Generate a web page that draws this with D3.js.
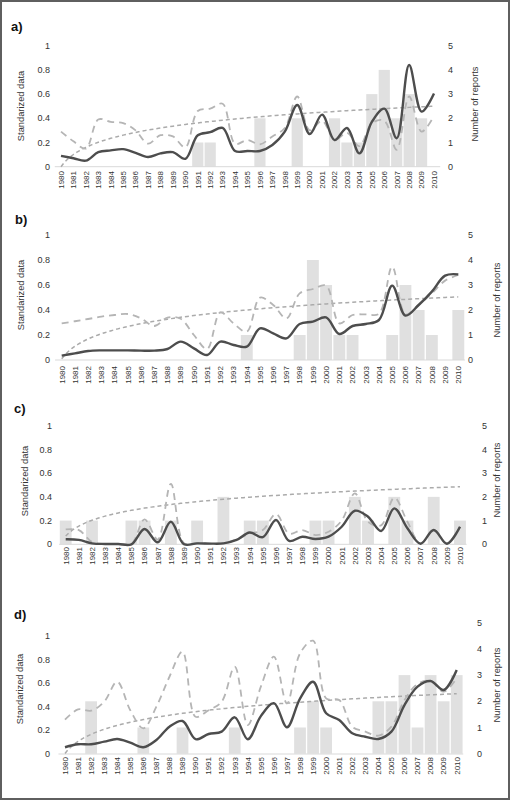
<!DOCTYPE html>
<html><head><meta charset="utf-8">
<script src="https://cdn.jsdelivr.net/npm/d3@7"></script>
<style>body{margin:0;background:#fff}svg{display:block}</style>
</head><body>
<script>
const years = [1980,1981,1982,1983,1984,1985,1986,1987,1988,1989,1990,1991,1992,1993,1994,1995,1996,1997,1998,1999,2000,2001,2002,2003,2004,2005,2006,2007,2008,2009,2010];
const leftTicks = [0,0.2,0.4,0.6,0.8,1];
const rightTicks = [0,1,2,3,4,5];
const panelLabels = ["a)","b)","c)","d)"];

const barsA   = [0,0,0,0,0,0,0,0,0,0,0,1,1,0,0,0,2,0,0,2,0,0,2,1,1,3,4,2,3,2,0];
const solidA  = [0.09,0.07,0.05,0.12,0.135,0.145,0.115,0.08,0.11,0.12,0.065,0.26,0.285,0.32,0.13,0.13,0.13,0.18,0.29,0.51,0.27,0.43,0.22,0.32,0.11,0.37,0.48,0.235,0.84,0.455,0.605];
const dashedA = [0.29,0.21,0.15,0.39,0.37,0.36,0.30,0.19,0.26,0.25,0.16,0.46,0.48,0.52,0.19,0.22,0.185,0.25,0.32,0.58,0.30,0.38,0.22,0.28,0.17,0.36,0.38,0.14,0.58,0.29,0.42];
const trendA  = [0.0,0.50];

const barsB   = [0,0,0,0,0,0,0,0,0,0,0,0,0,0,1,0,0,0,1,4,3,1,1,0,0,1,3,2,1,0,2];
const solidB  = [0.035,0.053,0.072,0.077,0.077,0.077,0.075,0.075,0.088,0.147,0.093,0.04,0.147,0.12,0.107,0.253,0.213,0.173,0.288,0.307,0.341,0.208,0.272,0.288,0.32,0.595,0.355,0.44,0.547,0.675,0.685];
const dashedB = [0.293,0.31,0.328,0.347,0.36,0.368,0.333,0.272,0.339,0.33,0.2,0.088,0.381,0.293,0.227,0.499,0.44,0.333,0.533,0.568,0.595,0.293,0.36,0.365,0.37,0.747,0.365,0.44,0.533,0.635,0.68];
const trendB  = [0.01,0.505];

const barsC   = [1,0,1,0,0,1,1,0,1,0,1,0,2,0,1,1,0,0,0,1,1,0,2,1,0,2,1,0,2,0,1];
const solidC  = [0.042,0.037,0.008,0.003,0.003,0.0,0.129,0.017,0.19,0.0,0.008,0.006,0.008,0.037,0.1,0.06,0.205,0.028,0.064,0.045,0.064,0.148,0.283,0.233,0.112,0.303,0.135,0.005,0.12,0.005,0.148];
const dashedC = [0.125,0.12,0.02,0.003,0.003,0.003,0.21,0.04,0.51,0.01,0.01,0.006,0.01,0.04,0.09,0.12,0.255,0.09,0.12,0.078,0.106,0.2,0.43,0.19,0.16,0.393,0.19,0.005,0.12,0.005,0.148];
const trendC  = [0.07,0.485];

const barsD   = [0,0,2,0,0,0,1,0,0,1,0,0,0,1,0,0,0,0,1,2,1,0,0,0,2,2,3,1,3,2,3];
const solidD  = [0.057,0.082,0.082,0.104,0.127,0.096,0.057,0.118,0.231,0.279,0.125,0.169,0.189,0.31,0.125,0.32,0.43,0.226,0.468,0.611,0.344,0.287,0.175,0.146,0.127,0.189,0.414,0.569,0.617,0.541,0.71];
const dashedD = [0.29,0.377,0.366,0.442,0.611,0.37,0.217,0.4,0.653,0.865,0.315,0.37,0.442,0.738,0.245,0.569,0.823,0.428,0.85,0.958,0.47,0.456,0.231,0.189,0.155,0.231,0.456,0.592,0.617,0.527,0.64];
const trendD  = [0.005,0.51];

const leftTitle = "Standarized data";
const rightTitle = "Number of reports";

const W = 510, H = 800;
const FONT = "'Liberation Sans', Arial, sans-serif";
const svg = d3.select("body").append("svg").attr("width", W).attr("height", H);
svg.append("rect").attr("width", W).attr("height", H).attr("fill", "#fff");

const panels = [
  {label: panelLabels[0], bars: barsA, solid: solidA, dashed: dashedA, trend: trendA,
   lx: 11, ly: 31, x0: 61, x1: 434, yTop: 45.7, yBase: 166.7, rTop: 45.7, rBase: 166.7,
   leftLabX: 50, rightLabX: 448, ltx: 21, lty: 106, rtx: 475, rty: 104, yearY: 171},
  {label: panelLabels[1], bars: barsB, solid: solidB, dashed: dashedB, trend: trendB,
   lx: 15, ly: 224, x0: 61.7, x1: 458.3, yTop: 235, yBase: 360, rTop: 235, rBase: 360,
   leftLabX: 50, rightLabX: 468, ltx: 21, lty: 295, rtx: 497, rty: 300, yearY: 366},
  {label: panelLabels[2], bars: barsC, solid: solidC, dashed: dashedC, trend: trendC,
   lx: 14, ly: 413, x0: 65.7, x1: 460, yTop: 425.7, yBase: 544.3, rTop: 425.7, rBase: 544.3,
   leftLabX: 52, rightLabX: 482, ltx: 25, lty: 481, rtx: 497, rty: 480, yearY: 547},
  {label: panelLabels[3], bars: barsD, solid: solidD, dashed: dashedD, trend: trendD,
   lx: 14, ly: 619, x0: 65, x1: 456.7, yTop: 635.7, yBase: 754, rTop: 622.7, rBase: 753.7,
   leftLabX: 50, rightLabX: 477, ltx: 20, lty: 689, rtx: 497, rty: 685, yearY: 757}
];

panels.forEach(p => {
  const n = years.length;
  const step = (p.x1 - p.x0) / (n - 1);
  const x = d3.scaleBand().domain(years).range([p.x0 - step / 2, p.x1 + step / 2]).paddingInner(0.1).paddingOuter(0.05);
  const xc = d => x(d) + x.bandwidth() / 2;
  const yL = d3.scaleLinear().domain([0, 1]).range([p.yBase, p.yTop]);
  const yR = d3.scaleLinear().domain([0, 5]).range([p.rBase, p.rTop]);
  const g = svg.append("g");

  // bars
  g.selectAll("rect.bar").data(years.map((yr, i) => ({yr, v: p.bars[i]})).filter(d => d.v > 0))
    .enter().append("rect").attr("class", "bar")
    .attr("x", d => x(d.yr)).attr("width", x.bandwidth())
    .attr("y", d => yR(d.v)).attr("height", d => yR(0) - yR(d.v))
    .attr("fill", "#e0e0e0");

  // baseline
  g.append("line").attr("x1", p.x0 - step / 2).attr("x2", p.x1 + step / 2)
    .attr("y1", yL(0)).attr("y2", yL(0)).attr("stroke", "#d9d9d9").attr("stroke-width", 1);

  const smooth = d3.line().x((d, i) => xc(years[i])).y(d => yL(d)).curve(d3.curveCatmullRom.alpha(0.5));

  // trend (logarithmic)
  const ln31 = Math.log(n);
  const trendPts = d3.range(0, n - 1 + 0.001, 0.25).map(t => ({
    px: xc(years[0]) + t * step,
    v: p.trend[0] + (p.trend[1] - p.trend[0]) * Math.log(t + 1) / ln31
  }));
  g.append("path").datum(trendPts)
    .attr("d", d3.line().x(d => d.px).y(d => yL(d.v)))
    .attr("fill", "none").attr("stroke", "#ababab").attr("stroke-width", 1.5)
    .attr("stroke-dasharray", "4,3");

  // dashed series
  g.append("path").datum(p.dashed).attr("d", smooth)
    .attr("fill", "none").attr("stroke", "#b5b5b5").attr("stroke-width", 1.8)
    .attr("stroke-dasharray", "7,5");

  // solid series
  g.append("path").datum(p.solid).attr("d", smooth)
    .attr("fill", "none").attr("stroke", "#4d4d4d").attr("stroke-width", 2.4);

  // left ticks
  g.selectAll("text.lt").data(leftTicks).enter().append("text")
    .attr("x", p.leftLabX).attr("y", d => yL(d)).attr("dy", "0.35em")
    .attr("text-anchor", "end").attr("font-family", FONT).attr("font-size", 9)
    .attr("fill", "#333").text(d => d3.format("~g")(d));

  // right ticks
  g.selectAll("text.rt").data(rightTicks).enter().append("text")
    .attr("x", p.rightLabX).attr("y", d => yR(d)).attr("dy", "0.35em")
    .attr("text-anchor", "start").attr("font-family", FONT).attr("font-size", 9)
    .attr("fill", "#333").text(d => d);

  // year labels
  g.selectAll("text.yr").data(years).enter().append("text")
    .attr("transform", d => `translate(${xc(d)},${p.yearY}) rotate(-90)`)
    .attr("dy", "0.35em").attr("text-anchor", "end")
    .attr("font-family", FONT).attr("font-size", 8).attr("fill", "#333").text(d => d);

  // axis titles
  g.append("text").attr("transform", `translate(${p.ltx},${p.lty}) rotate(-90)`)
    .attr("dy", "0.35em").attr("text-anchor", "middle")
    .attr("font-family", FONT).attr("font-size", 9.3).attr("fill", "#333").text(leftTitle);
  g.append("text").attr("transform", `translate(${p.rtx},${p.rty}) rotate(-90)`)
    .attr("dy", "0.35em").attr("text-anchor", "middle")
    .attr("font-family", FONT).attr("font-size", 9.3).attr("fill", "#333").text(rightTitle);

  // panel label
  g.append("text").attr("x", p.lx).attr("y", p.ly)
    .attr("font-family", FONT).attr("font-size", 13).attr("font-weight", "bold")
    .attr("fill", "#111").text(p.label);
});

// frame
svg.append("rect").attr("x", 1).attr("y", 1).attr("width", W - 2).attr("height", H - 2)
  .attr("fill", "none").attr("stroke", "#5f5f5f").attr("stroke-width", 2);
</script>
</body></html>
